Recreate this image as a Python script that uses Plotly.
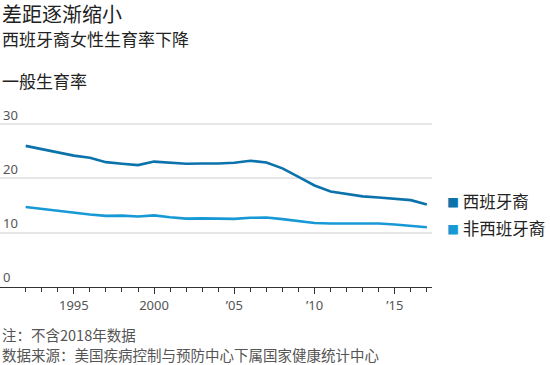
import plotly.graph_objects as go

years = list(range(1992, 2018))
hispanic = [26.0, 25.4, 24.8, 24.2, 23.8, 23.0, 22.7, 22.45, 23.1, 22.9, 22.7, 22.75, 22.75,
            22.9, 23.25, 22.95, 21.85, 20.3, 18.7, 17.6, 17.1, 16.7, 16.5, 16.3, 16.0, 15.2]
non_hispanic = [14.75, 14.4, 14.0, 13.6, 13.35, 13.1, 13.15, 13.0, 13.2, 12.85, 12.6, 12.65, 12.65,
                12.55, 12.75, 12.8, 12.5, 12.2, 11.8, 11.7, 11.7, 11.6, 11.7, 11.5, 11.3, 11.0]
series_names = ["西班牙裔", "非西班牙裔"]
x_tick_vals = [1995, 2000, 2005, 2010, 2015]
x_tick_text = ["1995", "2000", "’05", "’10", "’15"]
y_tick_vals = [0, 10, 20, 30]

title = "差距逐渐缩小"
subtitle = "西班牙裔女性生育率下降"
y_title = "一般生育率"
note = "注：不含2018年数据"
source = "数据来源：美国疾病控制与预防中心下属国家健康统计中心"

colors = ["#0b72ab", "#1799d6"]
CJK = "Noto Sans CJK SC, Noto Sans, sans-serif"

fig = go.Figure()
for vals, name, c in zip([hispanic, non_hispanic], series_names, colors):
    fig.add_trace(go.Scatter(x=years, y=vals, mode="lines", name=name,
                             line=dict(color=c, width=2.6, shape="linear"),
                             showlegend=False, hoverinfo="skip"))

Y_MAX = 35.0
H_BOT = 286.7
PX_PER_UNIT = 5.42
H_TOP = H_BOT - Y_MAX * PX_PER_UNIT
PLOT_H = H_BOT - H_TOP


def py(ypx):
    return (H_BOT - ypx) / PLOT_H


anns = [
    dict(text=title, x=0, y=py(14), font=dict(size=20, color="#222", family=CJK)),
    dict(text=subtitle, x=0, y=py(38.5), font=dict(size=17, color="#222", family=CJK)),
    dict(text=y_title, x=0, y=py(81), font=dict(size=17, color="#222", family=CJK)),
    dict(text=note, x=0, y=py(334), font=dict(size=14.5, color="#555", family=CJK)),
    dict(text=source, x=0, y=py(354), font=dict(size=14.5, color="#555", family=CJK)),
]
for name, c, ypix in zip(series_names, colors, [201, 228]):
    anns.append(dict(
        text=f"<span style='color:{c}; font-size:12px'>■</span> {name}",
        x=445 / 432, y=py(ypix), font=dict(size=16.5, color="#222", family=CJK)))

for a in anns:
    a.update(xref="paper", yref="paper", xanchor="left", yanchor="middle",
             showarrow=False, align="left")

fig.update_layout(
    width=550, height=365,
    margin=dict(l=0, r=118, t=H_TOP, b=365 - H_BOT),
    paper_bgcolor="white", plot_bgcolor="white",
    annotations=anns,
    font=dict(family=CJK),
    xaxis=dict(
        range=[1990.4, 2017.32],
        tickmode="array", tickvals=x_tick_vals, ticktext=x_tick_text,
        ticks="outside", ticklen=6, tickwidth=1, tickcolor="#333",
        minor=dict(tickmode="linear", tick0=1992, dtick=1, ticks="outside",
                   ticklen=4, tickwidth=1, tickcolor="#333", showgrid=False),
        showline=True, linecolor="#333", linewidth=1,
        showgrid=False, zeroline=False,
        tickfont=dict(size=13, color="#555", family="Noto Sans"),
    ),
    yaxis=dict(
        range=[0, Y_MAX], tickmode="array", tickvals=y_tick_vals,
        ticklabelposition="inside top",
        showgrid=True, gridcolor="#e6e6e6", gridwidth=1.5,
        zeroline=False, showline=False, ticks="",
        tickfont=dict(size=13, color="#555", family="Noto Sans"),
    ),
)

fig.write_html("out.html", config={"displayModeBar": False},
               post_script="document.body.style.margin='0';")
